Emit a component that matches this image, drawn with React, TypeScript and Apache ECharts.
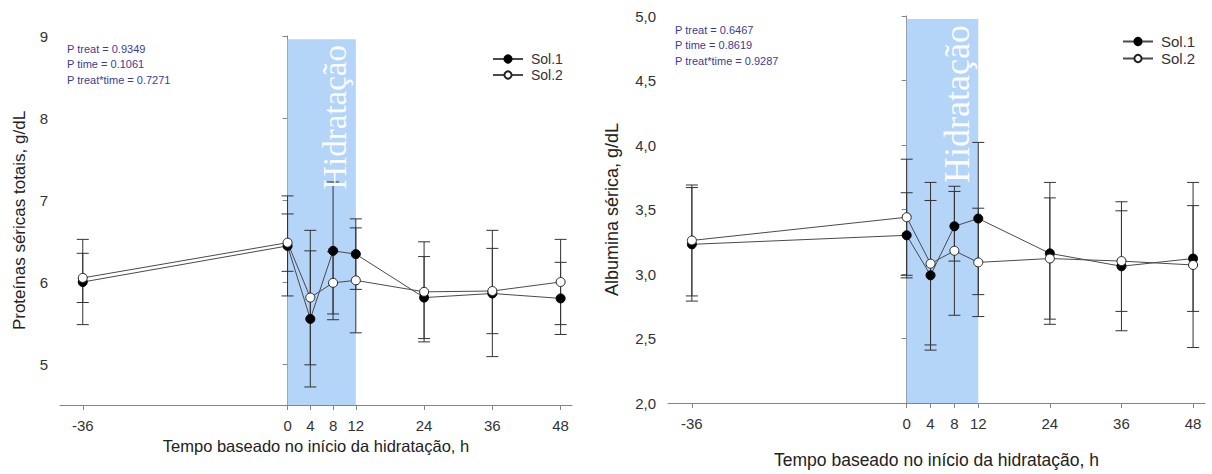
import React, { useEffect, useRef } from "react";
import * as echarts from "echarts";

const hours = [-36, 0, 4, 8, 12, 24, 36, 48];
const hydration = [0, 12];

const protSol1 = [6.0, 6.44, 5.55, 6.38, 6.34, 5.81, 5.86, 5.8];
const protSol1Sd = [0.52, 0.61, 0.83, 0.84, 0.43, 0.5, 0.77, 0.44];
const protSol2 = [6.05, 6.48, 5.81, 5.99, 6.02, 5.88, 5.89, 6.0];
const protSol2Sd = [0.3, 0.35, 0.82, 0.38, 0.64, 0.61, 0.52, 0.52];

const albSol1 = [3.23, 3.3, 2.99, 3.37, 3.43, 3.16, 3.06, 3.12];
const albSol1Sd = [0.44, 0.33, 0.58, 0.27, 0.59, 0.55, 0.5, 0.41];
const albSol2 = [3.26, 3.44, 3.08, 3.18, 3.09, 3.12, 3.1, 3.07];
const albSol2Sd = [0.43, 0.45, 0.63, 0.5, 0.42, 0.47, 0.39, 0.64];

const protTicks = [5, 6, 7, 8, 9];
const protPText = ["P treat = 0.9349", "P time = 0.1061", "P treat*time = 0.7271"];
const albPText = ["P treat = 0.6467", "P time = 0.8619", "P treat*time = 0.9287"];

const xName = "Tempo baseado no início da hidratação, h";
const protName = "Proteínas séricas totais, g/dL";
const albName = "Albumina sérica, g/dL";
const bandLabel = "Hidratação";

const SANS = "'Liberation Sans', Arial, sans-serif";
const SERIF = "'Liberation Serif', 'Times New Roman', serif";
const AXIS = "#858585";

const pairs = (ys: number[]) => hours.map((h, i) => [h, ys[i]]);
const errs = (ys: number[], sd: number[]) =>
  hours.map((h, i) => [h, ys[i] - sd[i], ys[i] + sd[i]]);

function errSeries(data: number[][], idx: number) {
  return {
    type: "custom",
    name: "err",
    xAxisIndex: idx,
    yAxisIndex: idx,
    z: 1,
    encode: { x: 0, y: [1, 2] },
    data,
    renderItem: (_p: any, api: any) => {
      const x = api.value(0);
      const top = api.coord([x, api.value(2)]);
      const bot = api.coord([x, api.value(1)]);
      const w = 6;
      const st = { stroke: "#333", lineWidth: 1 };
      return {
        type: "group",
        children: [
          { type: "line", shape: { x1: top[0], y1: top[1], x2: bot[0], y2: bot[1] }, style: st },
          { type: "line", shape: { x1: top[0] - w, y1: top[1], x2: top[0] + w, y2: top[1] }, style: st },
          { type: "line", shape: { x1: bot[0] - w, y1: bot[1], x2: bot[0] + w, y2: bot[1] }, style: st },
        ],
      };
    },
  };
}

function lineSeries(name: string, data: number[][], idx: number, filled: boolean, bandTop?: number) {
  const s: any = {
    type: "line",
    name,
    xAxisIndex: idx,
    yAxisIndex: idx,
    data,
    z: 3,
    symbol: "circle",
    symbolSize: 9,
    lineStyle: { color: "#4a4a4a", width: 1 },
    itemStyle: filled
      ? { color: "#000", borderColor: "#000", borderWidth: 1 }
      : { color: "#fff", borderColor: "#222", borderWidth: 1 },
  };
  if (bandTop !== undefined) {
    s.markArea = {
      silent: true,
      itemStyle: { color: "#b4d4f8" },
      data: [[{ xAxis: hydration[0], yAxis: bandTop }, { xAxis: hydration[1], yAxis: -100 }]],
    };
  }
  return s;
}

function xAxis(idx: number, gap: number, fs: number) {
  return {
    type: "value",
    gridIndex: idx,
    min: -40,
    max: 50,
    name: xName,
    nameLocation: "middle",
    nameGap: gap,
    nameTextStyle: { fontFamily: SANS, fontSize: fs, color: "#222" },
    splitLine: { show: false },
    axisLine: { lineStyle: { color: AXIS, width: 1 } },
    axisTick: { customValues: hours, length: 5, lineStyle: { color: AXIS } },
    axisLabel: { customValues: hours, margin: 13, fontFamily: SANS, fontSize: 15, color: "#333" },
  };
}

export default function App() {
  const ref = useRef<HTMLDivElement>(null);
  useEffect(() => {
    if (!ref.current) return;
    const chart = echarts.init(ref.current, null, { renderer: "svg" });
    const option: any = {
      animation: false,
      backgroundColor: "#fff",
      grid: [
        { left: 60, top: 36, width: 512, height: 369 },
        { left: 668, top: 16, width: 537, height: 390 },
      ],
      legend: [
        {
          data: ["Sol.1", "Sol.2"],
          orient: "vertical",
          left: 487,
          top: 47,
          itemWidth: 30,
          itemHeight: 9,
          itemGap: 2,
          selectedMode: false,
          textStyle: { fontFamily: SANS, fontSize: 14, color: "#333", padding: [0, 0, 0, 3] },
        },
        {
          data: ["Sol.1", "Sol.2"],
          orient: "vertical",
          left: 1117,
          top: 29,
          itemWidth: 30,
          itemHeight: 9,
          itemGap: 2,
          selectedMode: false,
          textStyle: { fontFamily: SANS, fontSize: 15, color: "#333", padding: [0, 0, 0, 3] },
        },
      ],
      xAxis: [xAxis(0, 28, 16.5), xAxis(1, 48, 17.5)],
      yAxis: [
        {
          type: "value",
          gridIndex: 0,
          min: 4.5,
          max: 9,
          name: protName,
          nameLocation: "middle",
          nameRotate: 90,
          nameGap: 32,
          nameTextStyle: { fontFamily: SANS, fontSize: 17, color: "#222" },
          splitLine: { show: false },
          axisLine: { show: true, lineStyle: { color: AXIS, width: 1 } },
          axisTick: { show: true, customValues: protTicks, length: 5, lineStyle: { color: AXIS } },
          axisLabel: { customValues: protTicks, margin: 12, fontFamily: SANS, fontSize: 15, color: "#333" },
        },
        {
          type: "value",
          gridIndex: 1,
          min: 2,
          max: 5,
          interval: 0.5,
          name: albName,
          nameLocation: "middle",
          nameRotate: 90,
          nameGap: 47,
          nameTextStyle: { fontFamily: SANS, fontSize: 18, color: "#222" },
          splitLine: { show: false },
          axisLine: { show: true, lineStyle: { color: AXIS, width: 1 } },
          axisTick: { show: true, length: 5, lineStyle: { color: AXIS } },
          axisLabel: {
            margin: 12,
            fontFamily: SANS,
            fontSize: 15,
            color: "#333",
            formatter: (v: number) => v.toFixed(1).replace(".", ","),
          },
        },
      ],
      series: [
        errSeries(errs(protSol1, protSol1Sd), 0),
        errSeries(errs(protSol2, protSol2Sd), 0),
        lineSeries("Sol.1", pairs(protSol1), 0, true, 8.96),
        lineSeries("Sol.2", pairs(protSol2), 0, false),
        errSeries(errs(albSol1, albSol1Sd), 1),
        errSeries(errs(albSol2, albSol2Sd), 1),
        lineSeries("Sol.1", pairs(albSol1), 1, true, 4.977),
        lineSeries("Sol.2", pairs(albSol2), 1, false),
      ],
    };
    chart.setOption(option);

    const p1 = chart.convertToPixel({ gridIndex: 0 } as any, [8.4, 9]) as number[];
    const p2 = chart.convertToPixel({ gridIndex: 1 } as any, [8.5, 5]) as number[];
    const pStyle = (lines: string[]) => ({
      text: lines.join("\n"),
      fill: "#3c3c96",
      font: `11px ${SANS}`,
      lineHeight: 15.5,
    });
    chart.setOption({
      graphic: [
        {
          type: "text",
          x: p1[0],
          y: p1[1] + 9,
          rotation: Math.PI / 2,
          z: 2,
          style: { text: bandLabel, fill: "rgba(255,255,255,0.95)", font: `33px ${SERIF}`, align: "right", verticalAlign: "middle" },
        },
        {
          type: "text",
          x: p2[0],
          y: p2[1] + 9,
          rotation: Math.PI / 2,
          z: 2,
          style: { text: bandLabel, fill: "rgba(255,255,255,0.95)", font: `36px ${SERIF}`, align: "right", verticalAlign: "middle" },
        },
        { type: "text", x: 67, y: 41, z: 5, style: pStyle(protPText) },
        { type: "text", x: 675, y: 22, z: 5, style: pStyle(albPText) },
      ],
    });
    return () => chart.dispose();
  }, []);
  return <div ref={ref} style={{ position: "fixed", left: 0, top: 0, width: 1212, height: 474 }} />;
}
